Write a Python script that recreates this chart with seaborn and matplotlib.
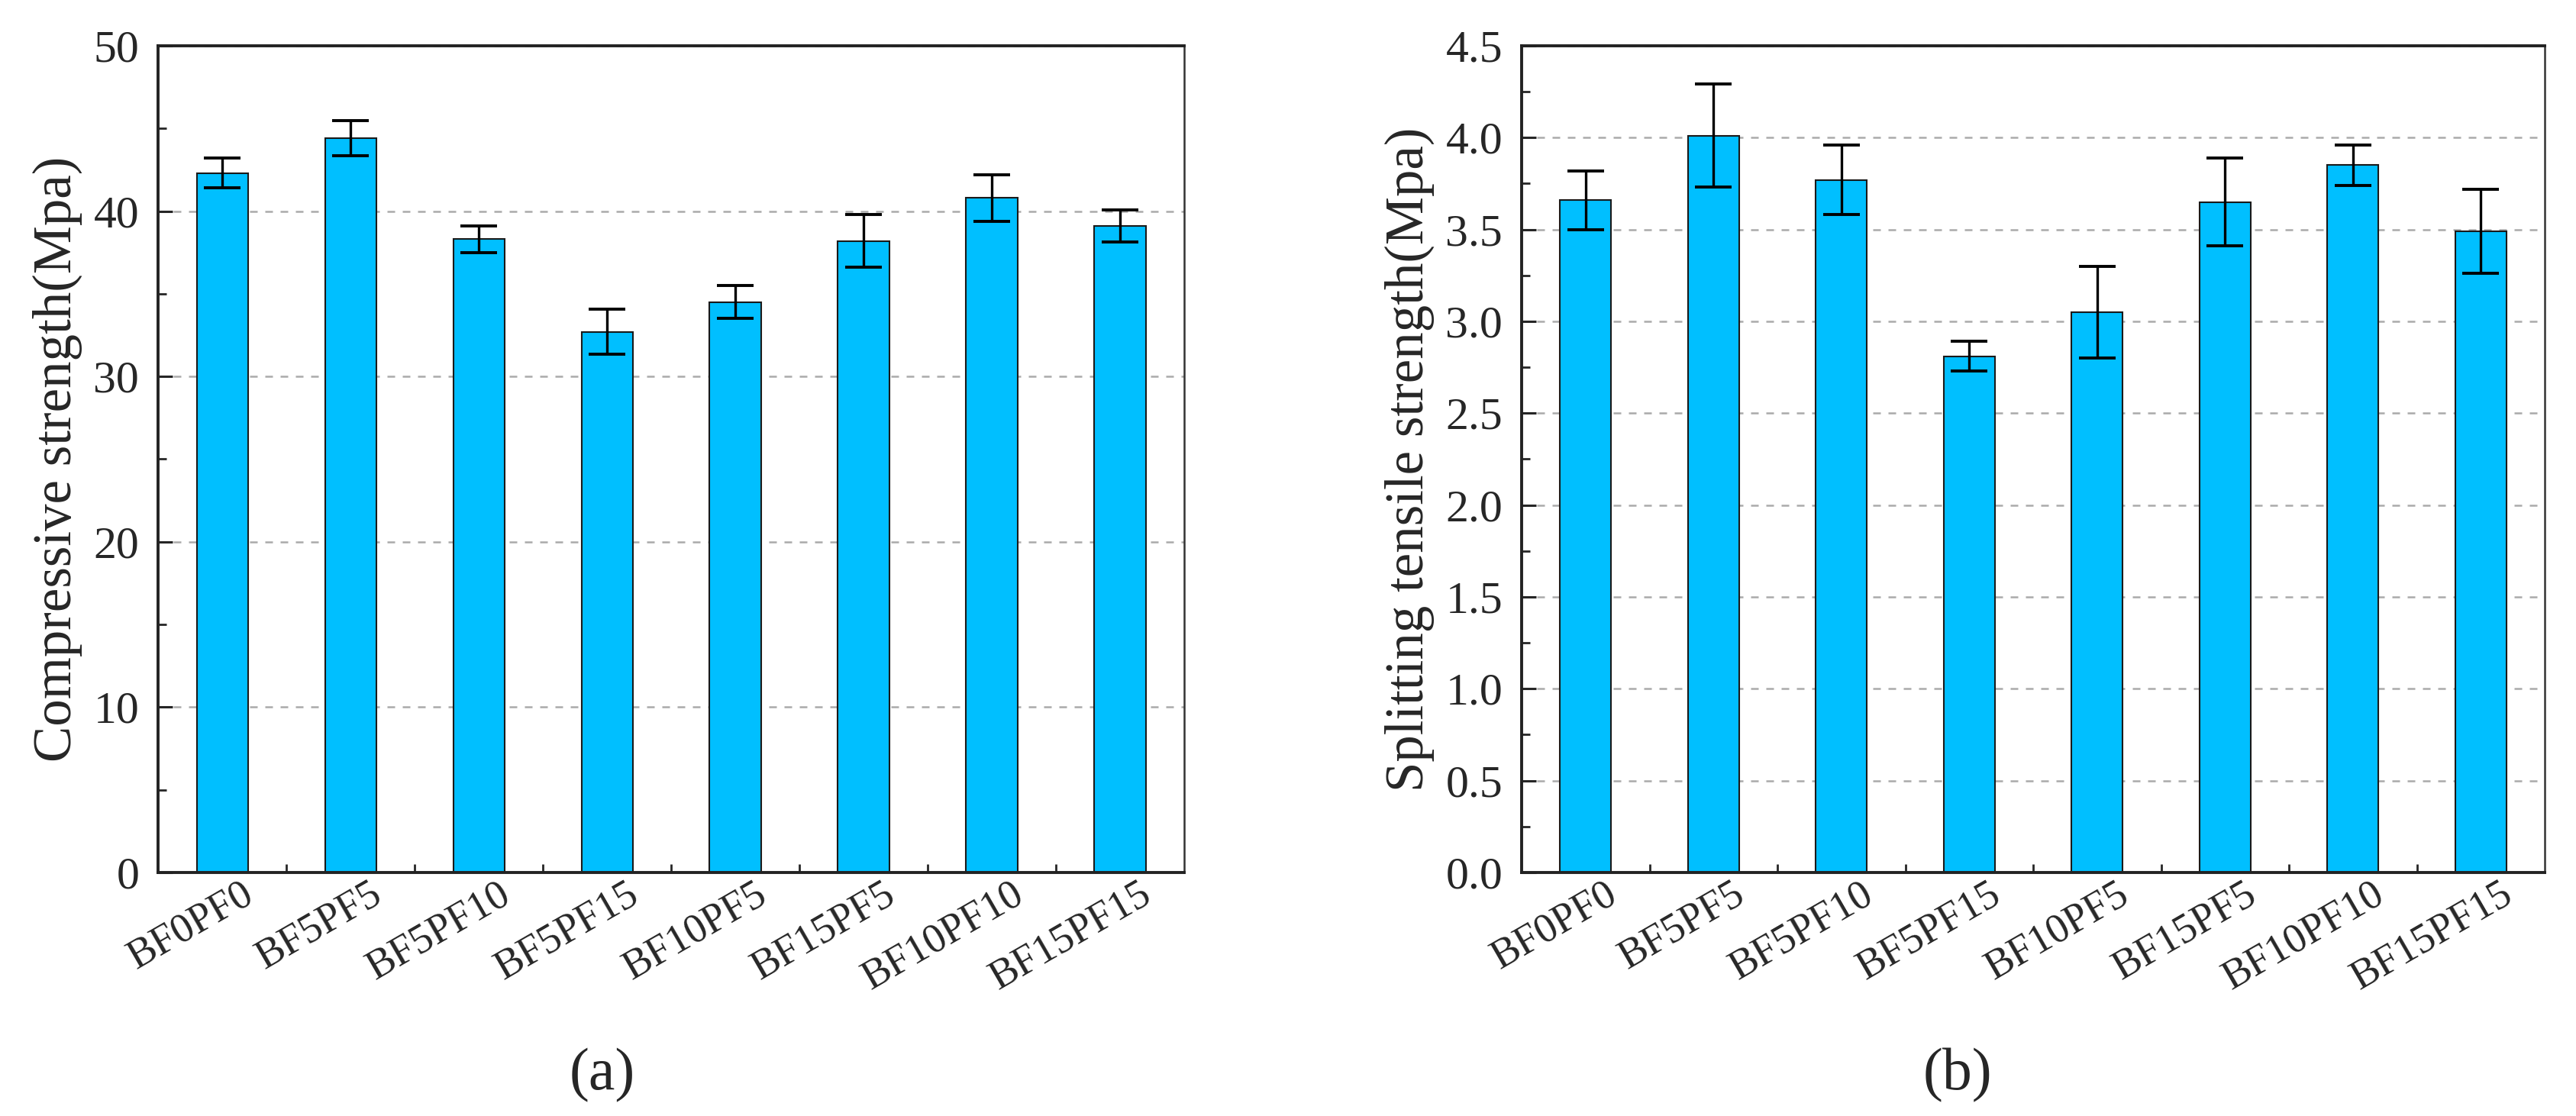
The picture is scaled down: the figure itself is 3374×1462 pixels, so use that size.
import numpy as np
import pandas as pd
import seaborn as sns
import matplotlib
matplotlib.use('Agg')
import matplotlib.pyplot as plt
import matplotlib.transforms as mtransforms
from matplotlib.ticker import MultipleLocator, FixedLocator

# Data
mixes = ['BF0PF0', 'BF5PF5', 'BF5PF10', 'BF5PF15', 'BF10PF5', 'BF15PF5', 'BF10PF10', 'BF15PF15']
compressive = [42.3, 44.4, 38.3, 32.7, 34.5, 38.2, 40.8, 39.1]
compressive_err = [0.9, 1.05, 0.8, 1.35, 1.0, 1.6, 1.4, 0.95]
splitting = [3.66, 4.01, 3.77, 2.81, 3.05, 3.65, 3.85, 3.49]
splitting_err = [0.16, 0.28, 0.19, 0.08, 0.25, 0.24, 0.11, 0.23]

BAR_COLOR = '#00BFFF'

sns.set_style('white')
plt.rcParams['font.family'] = ['Liberation Serif', 'DejaVu Serif']

fig = plt.figure(figsize=(33.74, 14.62), dpi=100)
ax_a = fig.add_axes([0.0614, 0.2182, 0.3983, 0.7408])
ax_b = fig.add_axes([0.5907, 0.2182, 0.3972, 0.7408])


def draw_panel(ax, values, errs, ylabel, ymax, ystep, fmt, label_x):
    df = pd.DataFrame({'mix': mixes, 'value': values})
    sns.barplot(data=df, x='mix', y='value', ax=ax, color=BAR_COLOR, saturation=1,
                width=0.4, edgecolor='#1a1a1a', linewidth=1.5, errorbar=None)
    ax.errorbar(np.arange(len(mixes)), values, yerr=errs, fmt='none', ecolor='black',
                elinewidth=2.4, capsize=17, capthick=2.8, zorder=3)

    ax.set_xlim(-0.5, len(mixes) - 0.5)
    ax.set_ylim(0, ymax)
    ax.yaxis.set_major_locator(MultipleLocator(ystep))
    ax.yaxis.set_minor_locator(MultipleLocator(ystep / 2))
    ax.yaxis.set_major_formatter(fmt)
    ax.xaxis.set_minor_locator(FixedLocator(np.arange(len(mixes) - 1) + 0.5))

    ax.set_axisbelow(True)
    ax.grid(axis='y', color='#AAAAAA', linestyle=(0, (4, 4)), linewidth=1.8)
    ax.grid(axis='x', visible=False)

    ax.tick_params(axis='y', which='major', direction='in', length=14, width=2.2,
                   labelsize=43, pad=18, left=True)
    ax.tick_params(axis='y', which='minor', direction='in', length=8, width=2.0, left=True)
    ax.tick_params(axis='x', which='major', length=0, labelsize=39, pad=18)
    ax.tick_params(axis='x', which='minor', direction='in', length=8, width=2.0, bottom=True)
    shift = mtransforms.ScaledTranslation(0.37, 0, fig.dpi_scale_trans)
    for lab in ax.get_xticklabels():
        lab.set_rotation(30)
        lab.set_ha('right')
        lab.set_va('center')
        lab.set_rotation_mode('anchor')
        lab.set_transform(lab.get_transform() + shift)

    for side in ['left', 'bottom', 'top']:
        ax.spines[side].set_visible(True)
        ax.spines[side].set_color('#222222')
        ax.spines[side].set_linewidth(2.8)
    ax.spines['right'].set_visible(True)
    ax.spines['right'].set_color('#333333')
    ax.spines['right'].set_linewidth(1.8)

    ax.set_xlabel('')
    ax.set_ylabel(ylabel, fontsize=51)
    ax.yaxis.set_label_coords(label_x, 0.5)


draw_panel(ax_a, compressive, compressive_err, 'Compressive strength(Mpa)', 50, 10,
           '{x:.0f}', -0.074)
draw_panel(ax_b, splitting, splitting_err, 'Splitting tensile strength(Mpa)', 4.5, 0.5,
           '{x:.1f}', -0.085)

fig.text(0.2338, 0.0369, '(a)', fontsize=56, ha='center', va='center')
fig.text(0.760, 0.0369, '(b)', fontsize=56, ha='center', va='center')

fig.savefig('out.png', dpi=100, facecolor='white')
